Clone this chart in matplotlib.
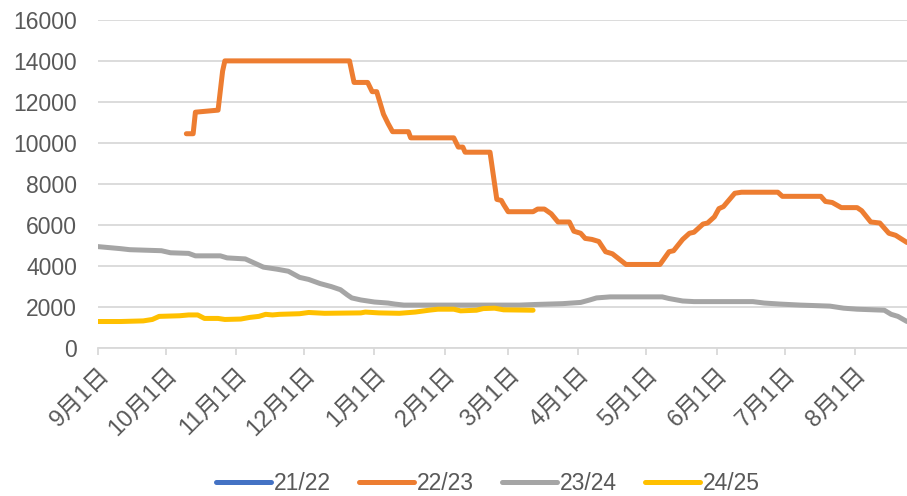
import pandas as pd
import matplotlib.pyplot as plt

plt.rcParams['font.family'] = ['Liberation Sans', 'Noto Sans CJK SC', 'DejaVu Sans']

# 日期: 从9月1日起的天数
series_names = ['21/22', '22/23', '23/24', '24/25']
colors = ['#4472C4', '#ED7D31', '#A5A5A5', '#FFC000']

days_2122 = []
vals_2122 = []

days_2223 = [39, 42, 43, 53, 55, 56, 111, 113, 119, 121, 123, 126, 128, 130, 137, 138,
             157, 159, 161, 162, 173, 176, 178, 179, 181, 192, 194, 197, 200, 203, 208,
             210, 213, 215, 218, 221, 224, 227, 233, 248, 252, 254, 258, 261, 263, 267,
             269, 272, 274, 276, 281, 284, 300, 302, 319, 321, 324, 328, 335, 337, 341,
             345, 349, 352, 357]
vals_2223 = [10450, 10450, 11500, 11600, 13500, 14000, 14000, 12950, 12950, 12500, 12500,
             11400, 10950, 10550, 10550, 10250, 10250, 9800, 9800, 9550, 9550, 7250, 7200,
             7000, 6650, 6650, 6780, 6780, 6550, 6150, 6150, 5700, 5600, 5350, 5300, 5200,
             4700, 4600, 4080, 4080, 4700, 4750, 5300, 5600, 5650, 6050, 6100, 6400, 6800,
             6900, 7550, 7600, 7600, 7400, 7400, 7150, 7100, 6850, 6850, 6700, 6150, 6100,
             5600, 5500, 5150]

days_2324 = [0, 5, 10, 14, 28, 32, 40, 43, 54, 57, 65, 69, 73, 79, 84, 89, 93, 98, 103,
             107, 110, 112, 116, 122, 128, 131, 135, 186, 193, 205, 213, 217, 220, 226,
             249, 252, 258, 263, 289, 294, 301, 310, 323, 329, 335, 347, 350, 353, 357]
vals_2324 = [4950, 4900, 4850, 4800, 4750, 4650, 4620, 4500, 4500, 4400, 4350, 4150, 3950,
             3850, 3750, 3450, 3350, 3150, 3000, 2850, 2600, 2450, 2350, 2250, 2200, 2150,
             2100, 2100, 2130, 2170, 2230, 2350, 2450, 2500, 2500, 2420, 2300, 2270, 2270,
             2200, 2150, 2100, 2050, 1950, 1900, 1850, 1650, 1550, 1300]

days_2425 = [0, 10, 20, 24, 27, 36, 40, 44, 47, 53, 56, 63, 67, 71, 74, 77, 80, 89, 93,
             100, 116, 118, 124, 133, 140, 146, 150, 157, 160, 167, 170, 175, 179, 192]
vals_2425 = [1300, 1300, 1330, 1400, 1550, 1580, 1620, 1620, 1450, 1450, 1400, 1420, 1500,
             1550, 1650, 1620, 1650, 1680, 1740, 1700, 1720, 1760, 1720, 1700, 1760, 1850,
             1900, 1900, 1820, 1850, 1930, 1950, 1870, 1850]

all_days = [days_2122, days_2223, days_2324, days_2425]
all_vals = [vals_2122, vals_2223, vals_2324, vals_2425]

# 月份刻度
month_starts = pd.date_range('2022-09-01', periods=12, freq='MS')
tick_pos = (month_starts - month_starts[0]).days
tick_labels = [f'{d.month}月1日' for d in month_starts]

fig = plt.figure(figsize=(9.07, 4.96), dpi=100)
ax = fig.add_axes([0.108, 0.298, 0.892, 0.662])

for name, c, d, v in zip(series_names, colors, all_days, all_vals):
    ax.plot(d, v, color=c, lw=3.6, label=name, solid_joinstyle='round', solid_capstyle='round')

ax.set_xlim(0, 357)
ax.set_ylim(0, 16000)
ax.set_yticks(range(0, 16001, 2000))
ax.grid(axis='y', color='#d9d9d9', lw=1.3)
ax.set_axisbelow(True)

for s in ['top', 'right', 'left']:
    ax.spines[s].set_visible(False)
ax.spines['bottom'].set_color('#d9d9d9')
ax.spines['bottom'].set_linewidth(1.3)

ax.set_xticks(tick_pos)
ax.set_xticklabels(tick_labels, rotation=45, ha='right', rotation_mode='anchor')
ax.tick_params(axis='x', colors='#d9d9d9', length=5, width=1.3, labelcolor='#595959',
               labelsize=17, pad=6)
ax.tick_params(axis='y', length=0, labelcolor='#595959', labelsize=16.5, pad=15)

ax.legend(loc='center', bbox_to_anchor=(0.538, 0.026), bbox_transform=fig.transFigure,
          ncol=4, frameon=False, fontsize=16.5, handlelength=2.4, handletextpad=0.15,
          columnspacing=1.2, labelcolor='#595959', borderpad=0.1)

fig.savefig('out.png', dpi=100)
